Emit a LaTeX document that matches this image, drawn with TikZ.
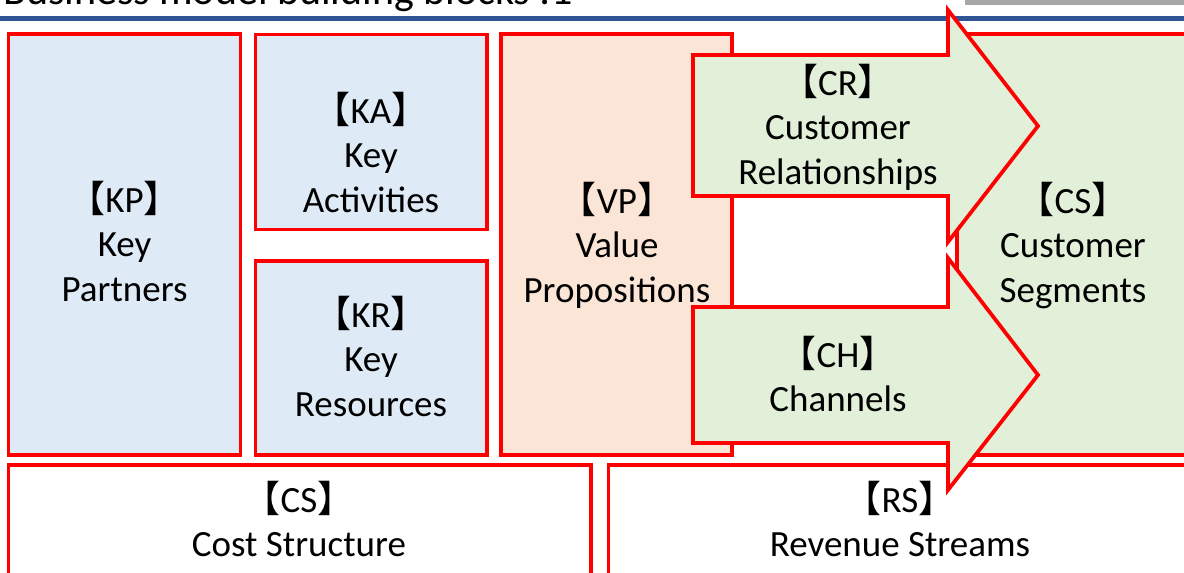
\documentclass[tikz,border=0pt]{standalone}
\usepackage{fontspec}
\setmainfont{Carlito}
\newfontfamily\cjkfont{Noto Sans CJK JP}
\newcommand\lbrk{{\cjkfont 【}}
\newcommand\rbrk{{\cjkfont 】}}
\newcommand\lstrut{\rule[-10pt]{0pt}{44.5pt}}
\definecolor{bmred}{HTML}{FF0000}
\definecolor{bmblue}{HTML}{DEEAF6}
\definecolor{bmpeach}{HTML}{FBE5D6}
\definecolor{bmgreen}{HTML}{E2F0D9}
\definecolor{bmline}{HTML}{2F5597}
\definecolor{bmgray}{HTML}{A6A6A6}
\begin{document}
\begin{tikzpicture}[x=1pt,y=-1pt,
  block/.style={draw=bmred, line width=3.75pt, rectangle, inner sep=0pt, outer sep=0pt},
  arrowshape/.style={draw=bmred, line width=3.75pt, fill=bmgreen, line join=miter},
  lbl/.style={inner sep=0pt, outer sep=0pt, align=center, anchor=north,
    font=\fontsize{37}{44.5}\selectfont}]
\useasboundingbox (0,0) rectangle (1184,573);
\clip (0,0) rectangle (1184,573);
% title and rule
\node[anchor=base west, inner sep=0pt, font=\fontsize{42}{50}\selectfont] (title) at (3,4) {Business model building blocks :1};
\fill[bmgray] (965,0) rectangle (1184,5);
\draw[bmline, line width=4.5pt] (0,18.5) -- (1184,18.5);
% blocks
\node[block, fill=bmblue, minimum width=232pt, minimum height=421pt] (kp) at (124.5,244.5) {};
\node[block, fill=bmblue, minimum width=231.5pt, minimum height=195pt] (ka) at (371.25,132) {};
\node[block, fill=bmblue, minimum width=231.5pt, minimum height=194pt] (kr) at (371.25,358) {};
\node[block, fill=bmpeach, minimum width=231pt, minimum height=421pt] (vp) at (616.5,244.5) {};
\node[block, fill=bmgreen, minimum width=243pt, minimum height=421pt] (cs) at (1078.5,244.5) {};
\node[block, fill=white, minimum width=582.5pt, minimum height=135pt] (cost) at (299.75,532.5) {};
\node[block, fill=white, minimum width=591.5pt, minimum height=135pt] (rev) at (904.25,532.5) {};
% arrows
\draw[arrowshape] (693,55) -- (948,55) -- (948,10) -- (1038,126) -- (948,242) -- (948,196) -- (693,196) -- cycle;
\draw[arrowshape] (693,307) -- (948,307) -- (948,258) -- (1038,375) -- (948,490) -- (948,443) -- (693,443) -- cycle;
% labels
\node[lbl] (kpT) at (124.5,177.5) {\lstrut\lbrk KP\rbrk\\\lstrut Key\\\lstrut Partners};
\node[lbl] (kaT) at (371,88.5) {\lstrut\lbrk KA\rbrk\\\lstrut Key\\\lstrut Activities};
\node[lbl] (krT) at (371,292.5) {\lstrut\lbrk KR\rbrk\\\lstrut Key\\\lstrut Resources};
\node[lbl] (vpT) at (617,178.5) {\lstrut\lbrk VP\rbrk\\\lstrut Value\\\lstrut Propositions};
\node[lbl] (csT) at (1073,178.5) {\lstrut\lbrk CS\rbrk\\\lstrut Customer\\\lstrut Segments};
\node[lbl] (crT) at (838,60.5) {\lstrut\lbrk CR\rbrk\\\lstrut Customer\\\lstrut Relationships};
\node[lbl] (chT) at (838,332.5) {\lstrut\lbrk CH\rbrk\\\lstrut Channels};
\node[lbl] (costT) at (299,477.5) {\lstrut\lbrk CS\rbrk\\\lstrut Cost Structure};
\node[lbl] (revT) at (900,477.5) {\lstrut\lbrk RS\rbrk\\\lstrut Revenue Streams};
\end{tikzpicture}
\end{document}
